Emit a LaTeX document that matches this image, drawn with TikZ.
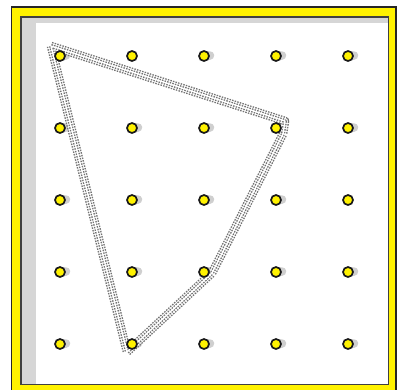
\documentclass[tikz,border=0pt]{standalone}
\begin{document}
\begin{tikzpicture}[x=1pt,y=-1pt,
  peg/.style={circle,draw=black!90,line width=1.7pt,fill=yellow,minimum size=10pt,inner sep=0pt},
  pegshadow/.style={line width=8.5pt,gray!38,line cap=round},
  bandA/.style={line width=8.6pt,black!55,dash pattern=on 1.5pt off 1.2pt,line join=round},
  bandB/.style={line width=5.8pt,white,line join=round},
  bandC/.style={line width=4.2pt,black!55,dash pattern=on 1.5pt off 1.2pt,line join=round},
  bandD/.style={line width=1.4pt,white,line join=round}]
\useasboundingbox (0,0) rectangle (398,389);
\clip (0,0) rectangle (398,389);
% frame
\draw[fill=yellow,draw=black!85,line width=1.6pt] (11.5,7) rectangle (396,394);
\draw[fill=white,draw=black!75,line width=1.6pt] (21,17) rectangle (388.5,384.5);
\fill[gray!32] (21.8,17.8) rectangle (36,383.7);
\fill[gray!32] (21.8,17.8) rectangle (387.7,23);
% peg shadows
\foreach \x/\y in {60/56,204/56,276/56,348/56,
                   60/128,132/128,204/128,348/128,
                   60/200,132/200,204/200,276/200,
                   60/272,132/272,204/272,276/272,348/272,
                   60/344,132/344,204/344,276/344,348/344}
  \draw[pegshadow] (\x,\y) -- (\x+6,\y-0.5);
% band
\coordinate (b1) at (51,46);
\coordinate (b2) at (285,121);
\coordinate (b3) at (283,134);
\coordinate (b4) at (212,273);
\coordinate (b5) at (127,352);
\foreach \s in {bandA,bandB,bandC,bandD}
  \draw[\s] (b1) -- (b2) -- (b3) -- (b4) -- (b5) -- cycle;
% pegs
\foreach \i/\y in {1/56,2/128,3/200,4/272,5/344}
  \foreach \j/\x in {1/60,2/132,3/204,4/276,5/348}
    \node[peg] (p\i\j) at (\x,\y) {};
\end{tikzpicture}
\end{document}
